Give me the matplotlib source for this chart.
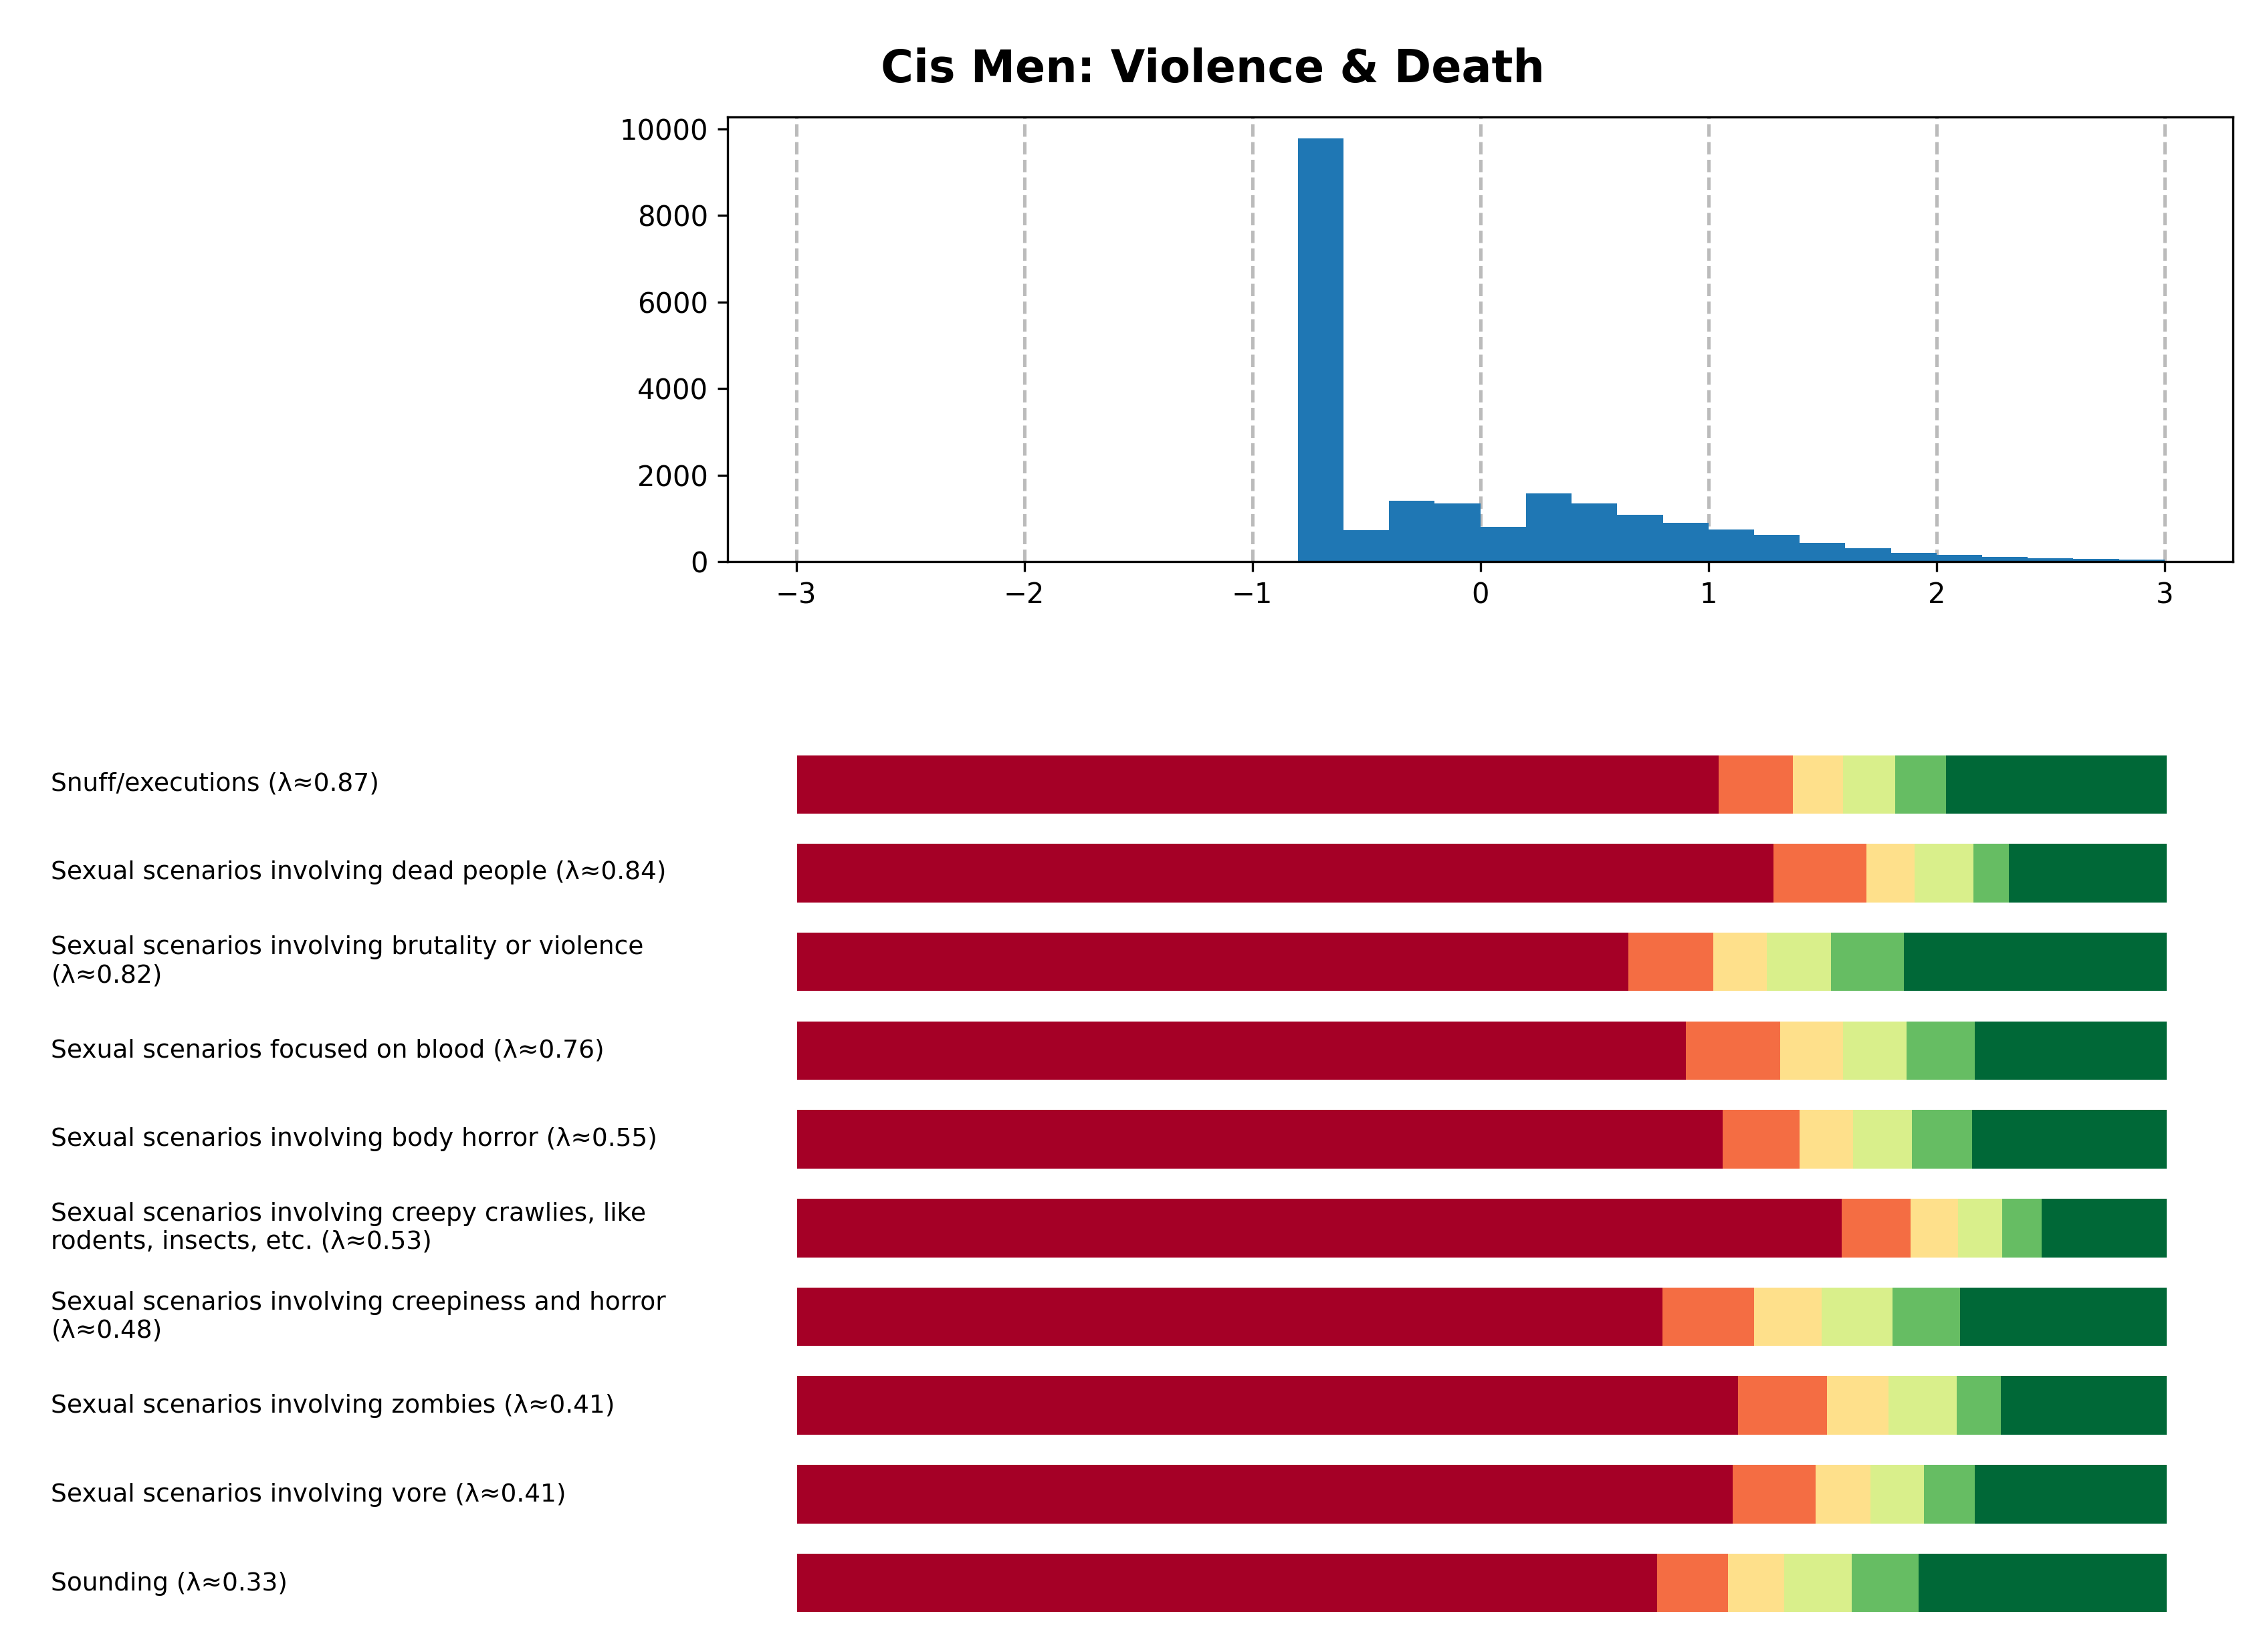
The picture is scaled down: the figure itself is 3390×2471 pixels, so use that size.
import matplotlib
matplotlib.use("Agg")
import matplotlib.pyplot as plt
import numpy as np

bin_edges = [-0.8,-0.6,-0.4,-0.2,0.0,0.2,0.4,0.6,0.8,1.0,1.2,1.4,1.6,1.8,2.0,2.2,2.4,2.6,2.8,3.0]
counts = [9780,720,1400,1340,800,1570,1340,1090,900,750,620,440,310,200,150,110,80,65,45]

labels = [
    "Snuff/executions (λ≈0.87)",
    "Sexual scenarios involving dead people (λ≈0.84)",
    "Sexual scenarios involving brutality or violence\n(λ≈0.82)",
    "Sexual scenarios focused on blood (λ≈0.76)",
    "Sexual scenarios involving body horror (λ≈0.55)",
    "Sexual scenarios involving creepy crawlies, like\nrodents, insects, etc. (λ≈0.53)",
    "Sexual scenarios involving creepiness and horror\n(λ≈0.48)",
    "Sexual scenarios involving zombies (λ≈0.41)",
    "Sexual scenarios involving vore (λ≈0.41)",
    "Sounding (λ≈0.33)",
]
shares = [
    [0.673,0.054,0.037,0.038,0.037],
    [0.713,0.068,0.035,0.043,0.026],
    [0.607,0.062,0.039,0.047,0.053],
    [0.649,0.069,0.046,0.046,0.050],
    [0.676,0.056,0.039,0.043,0.044],
    [0.763,0.050,0.035,0.032,0.029],
    [0.632,0.067,0.049,0.052,0.049],
    [0.687,0.065,0.045,0.050,0.032],
    [0.683,0.061,0.040,0.039,0.037],
    [0.628,0.052,0.041,0.049,0.049],
]
colors = ["#a50026","#f46d43","#fee08b","#d9ef8b","#66bd63","#006837"]

fig = plt.figure(figsize=(11.3, 8.237), dpi=300)
fig.text(0.535, 0.958, "Cis Men: Violence & Death", ha="center", va="center",
         fontsize=16, fontweight="bold")

ax = fig.add_axes([0.321, 0.660, 0.664, 0.269])
edges = np.array(bin_edges)
ax.bar(edges[:-1], counts, width=np.diff(edges), align="edge", color="#1f77b4")
for v in range(-3, 4):
    ax.axvline(v, color="#bbbbbb", ls="--", lw=1.2, zorder=0)
ax.set_xlim(-3.3, 3.3)
ax.set_xticks(range(-3, 4))
ax.tick_params(labelsize=10)

bx = fig.add_axes([0.3515, 0.015, 0.6042, 0.537])
for i, s in enumerate(shares):
    vals = list(s) + [1 - sum(s)]
    left = 0
    for v, c in zip(vals, colors):
        bx.barh(i, v, left=left, height=0.66, color=c)
        left += v
    fig.text(0.0225, 1 - (538 + 61 * i) / 1134, labels[i], ha="left", va="center", fontsize=9)
bx.set_xlim(0, 1)
bx.set_ylim(9.5, -0.5)
bx.axis("off")

fig.savefig("out.png", dpi=300)
